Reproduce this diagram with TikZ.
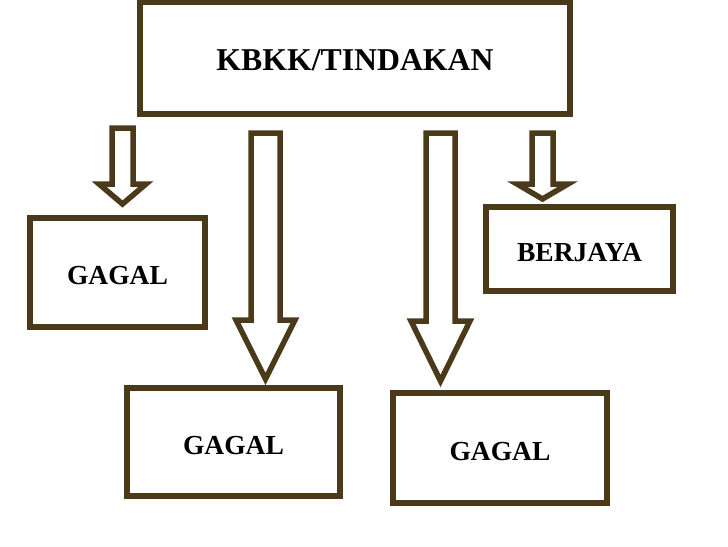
\documentclass[tikz,border=0pt]{standalone}
\usepackage{fontspec}
\setmainfont{Liberation Serif}
\newlength{\du}
\setlength{\du}{0.85pt}
\definecolor{dialinecolor}{rgb}{0.290000, 0.227000, 0.102000}
\tikzset{
  kotak/.style={draw=dialinecolor, line width=5.5\du, fill=white, inner sep=0pt,
    text height=20.6pt, text depth=0pt,
    font=\fontsize{23.4}{28}\selectfont\bfseries},
  anakpanah/.style={draw=dialinecolor, line width=5.5\du, fill=white, miter limit=20}
}
% block arrow: x, top, head base, tip, shaft half width, head half width
\newcommand{\blokpanah}[6]{%
\draw[anakpanah] (#1-#5,#2)--(#1+#5,#2)--(#1+#5,#3)--(#1+#6,#3)--(#1,#4)--(#1-#6,#3)--(#1-#5,#3)--cycle;}

\begin{document}
\begin{tikzpicture}[x=\du,y=-\du]
\useasboundingbox (0,0) rectangle (728,546);
% boxes
\node[kotak, minimum width=430\du, minimum height=112\du, text height=21.2pt,
  font=\fontsize{27}{32}\selectfont\bfseries] (tindakan) at (355,58) {KBKK/TINDAKAN};
\node[kotak, minimum width=175\du, minimum height=109\du] (gagala) at (117.5,272.5) {GAGAL};
\node[kotak, minimum width=187\du, minimum height=84\du] (berjaya) at (579.5,249) {BERJAYA};
\node[kotak, minimum width=213\du, minimum height=108\du] (gagalb) at (233.5,442) {GAGAL};
\node[kotak, minimum width=214\du, minimum height=110\du] (gagalc) at (500,448) {GAGAL};
% arrows
\blokpanah{122.5}{128}{184}{204}{10.5}{23.5}
\blokpanah{265.5}{133}{320}{379}{14.5}{29.5}
\blokpanah{440.5}{133}{321}{381}{14.5}{29.5}
\blokpanah{542.5}{133}{184}{199}{10.5}{25.5}
\end{tikzpicture}
\end{document}
